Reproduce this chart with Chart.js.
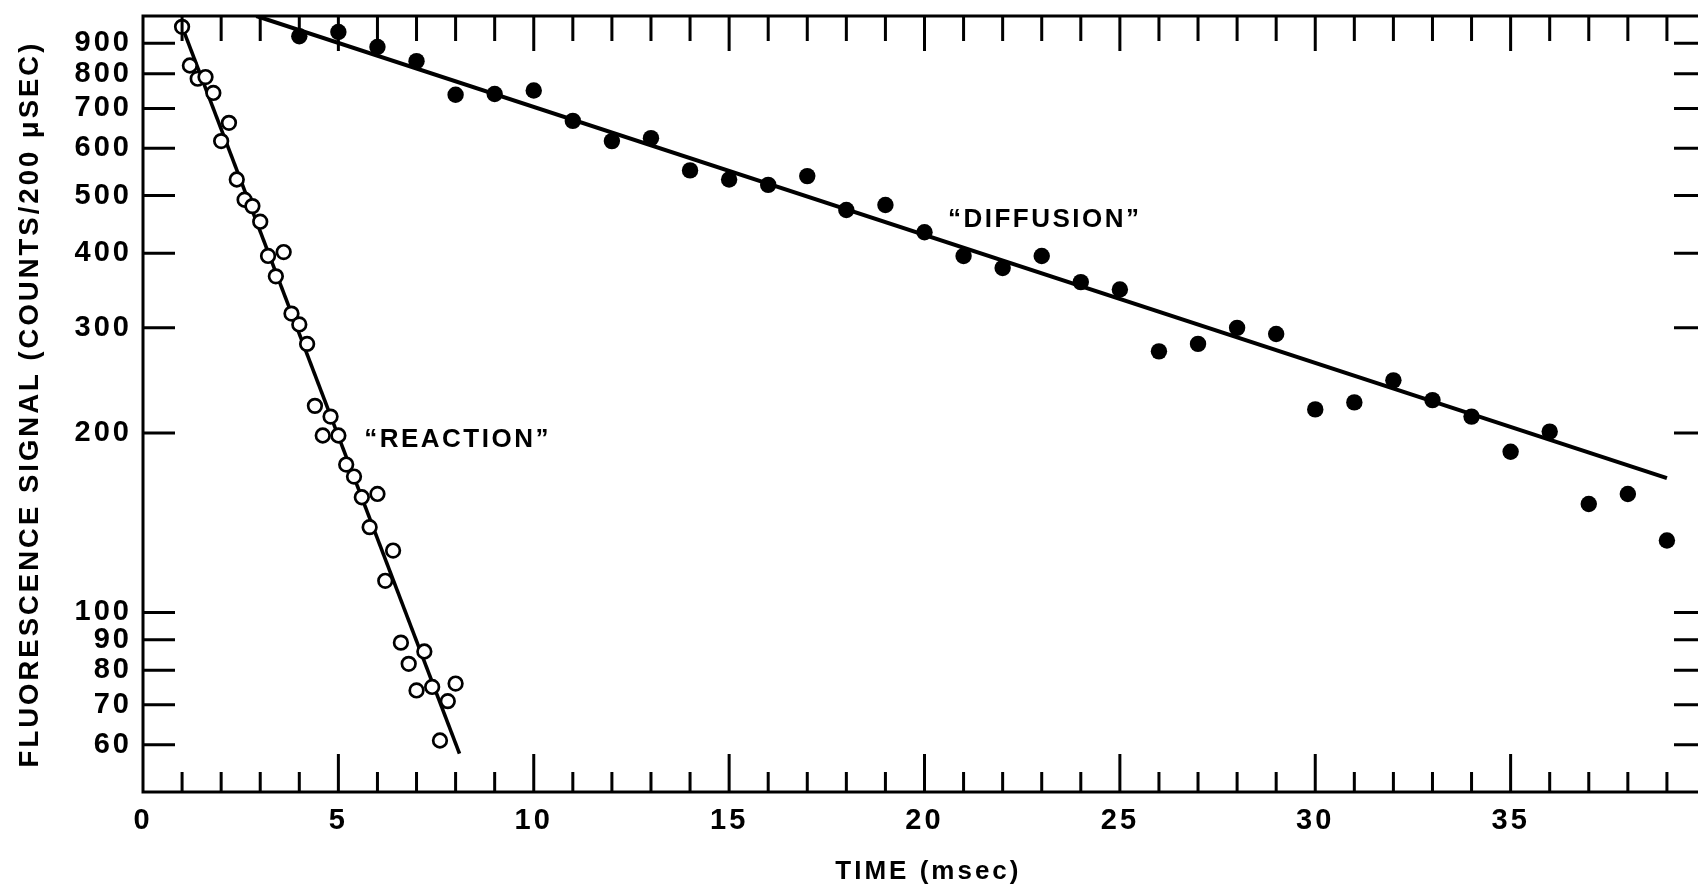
<!DOCTYPE html>
<html>
<head>
<meta charset="utf-8">
<script src="https://cdn.jsdelivr.net/npm/chart.js@4.4.1/dist/chart.umd.min.js"></script>
<style>
  html, body { margin: 0; padding: 0; background: #fff; overflow: hidden; }
  #wrap { width: 1720px; height: 891px; position: relative; }
</style>
</head>
<body>
<div id="wrap"><canvas id="c"></canvas></div>
<script>
// ---- data ----
const reactionTime = [1.0, 1.2, 1.4, 1.6, 1.8, 2.0, 2.2, 2.4, 2.6, 2.8, 3.0, 3.2, 3.4, 3.6, 3.8, 4.0, 4.2, 4.4,
                      4.6, 4.8, 5.0, 5.2, 5.4, 5.6, 5.8, 6.0, 6.2, 6.4, 6.6, 6.8, 7.0, 7.2, 7.4, 7.6, 7.8, 8.0];
const reactionSignal = [959, 826, 785, 790, 743, 617, 662, 532, 492, 480, 452, 396, 366, 402, 317, 304, 282, 222,
                        198, 213, 198, 177, 169, 156, 139, 158, 113, 127, 89, 82, 74, 86, 75, 61, 71, 76];

const diffusionTime = [4, 5, 6, 7, 8, 9, 10, 11, 12, 13, 14, 15, 16, 17, 18, 19, 20, 21,
                       22, 23, 24, 25, 26, 27, 28, 29, 30, 31, 32, 33, 34, 35, 36, 37, 38, 39];
const diffusionSignal = [925, 940, 887, 840, 738, 740, 750, 667, 617, 624, 551, 532, 521, 539, 473, 482, 434, 396,
                         378, 396, 358, 348, 274, 282, 300, 293, 219, 225, 245, 227, 213, 186, 201, 152, 158, 132];

const reactionFitTime = [1.0, 8.1];
const reactionFitSignal = [960, 58];
const diffusionFitTime = [2.9, 39.0];
const diffusionFitSignal = [1000, 168];

const yTickValues = [60, 70, 80, 90, 100, 200, 300, 400, 500, 600, 700, 800, 900];
const xTickValues = [0, 5, 10, 15, 20, 25, 30, 35];
const xMinorTicks = [1, 2, 3, 4, 5, 6, 7, 8, 9, 10, 11, 12, 13, 14, 15, 16, 17, 18, 19, 20,
                     21, 22, 23, 24, 25, 26, 27, 28, 29, 30, 31, 32, 33, 34, 35, 36, 37, 38, 39];

const curveLabels = ['\u201CREACTION\u201D', '\u201CDIFFUSION\u201D'];
const curveLabelTime = [5.66, 20.6];
const curveLabelSignal = [195, 455];

const xTitle = 'TIME (msec)';
const yTitle = 'FLUORESCENCE SIGNAL (COUNTS/200 \u03BCSEC)';

// ---- helpers ----
const zip = (xs, ys) => xs.map((x, i) => ({ x: x, y: ys[i] }));
const FONT = '"Liberation Sans", Arial, Helvetica, sans-serif';
const SPACING = '3px';

const framePlugin = {
  id: 'frame',
  beforeLayout(chart) { chart.ctx.letterSpacing = SPACING; },
  beforeDraw(chart) {
    const ctx = chart.ctx;
    ctx.letterSpacing = SPACING;
    ctx.save();
    ctx.fillStyle = '#fff';
    ctx.fillRect(0, 0, chart.width, chart.height);
    ctx.restore();
  },
  afterDraw(chart) {
    const { ctx, chartArea: a, scales: { x, y } } = chart;
    ctx.save();
    ctx.strokeStyle = '#000';
    ctx.lineWidth = 3;
    ctx.lineCap = 'butt';
    ctx.strokeRect(a.left, a.top, a.right - a.left, a.bottom - a.top);
    ctx.beginPath();
    xMinorTicks.forEach(v => {
      const px = x.getPixelForValue(v);
      const major = v % 5 === 0;
      ctx.moveTo(px, a.bottom);
      ctx.lineTo(px, a.bottom - (major ? 38 : 20));
      ctx.moveTo(px, a.top);
      ctx.lineTo(px, a.top + (major ? 35 : 25));
    });
    yTickValues.forEach(v => {
      const py = y.getPixelForValue(v);
      ctx.moveTo(a.left, py);
      ctx.lineTo(a.left + 32, py);
      ctx.moveTo(a.right, py);
      ctx.lineTo(a.right - 32, py);
    });
    ctx.stroke();

    ctx.fillStyle = '#000';
    ctx.textBaseline = 'middle';

    // curve labels
    ctx.letterSpacing = '2.5px';
    ctx.font = 'bold 26px ' + FONT;
    ctx.textAlign = 'left';
    curveLabels.forEach((t, i) => {
      ctx.fillText(t, x.getPixelForValue(curveLabelTime[i]), y.getPixelForValue(curveLabelSignal[i]));
    });

    // axis titles
    ctx.letterSpacing = '3px';
    ctx.font = 'bold 26px ' + FONT;
    ctx.textAlign = 'center';
    ctx.fillText(xTitle, x.getPixelForValue(20.1), chart.height - 19);

    ctx.font = 'bold 27.5px ' + FONT;
    ctx.translate(30, (a.top + a.bottom) / 2);
    ctx.rotate(-Math.PI / 2);
    ctx.fillText(yTitle, 0, 0);
    ctx.restore();
  }
};

Chart.defaults.font.family = FONT;
Chart.defaults.color = '#000';

new Chart(document.getElementById('c'), {
  type: 'scatter',
  data: {
    datasets: [
      {
        label: 'Reaction',
        data: zip(reactionTime, reactionSignal),
        pointStyle: 'circle',
        pointRadius: 6.8,
        pointBorderWidth: 2.7,
        pointBackgroundColor: '#fff',
        pointBorderColor: '#000',
        showLine: false,
        order: 1
      },
      {
        label: 'Diffusion',
        data: zip(diffusionTime, diffusionSignal),
        pointStyle: 'circle',
        pointRadius: 8.2,
        pointBorderWidth: 0,
        pointBackgroundColor: '#000',
        pointBorderColor: '#000',
        showLine: false,
        order: 1
      },
      {
        label: 'Reaction fit',
        data: zip(reactionFitTime, reactionFitSignal),
        showLine: true,
        borderColor: '#000',
        borderWidth: 3.6,
        pointRadius: 0,
        order: 2
      },
      {
        label: 'Diffusion fit',
        data: zip(diffusionFitTime, diffusionFitSignal),
        showLine: true,
        borderColor: '#000',
        borderWidth: 4,
        pointRadius: 0,
        order: 2
      }
    ]
  },
  options: {
    responsive: true,
    maintainAspectRatio: false,
    animation: false,
    events: [],
    layout: { padding: { top: 16, right: 14, left: 0, bottom: 0 } },
    plugins: { legend: { display: false }, tooltip: { enabled: false } },
    scales: {
      x: {
        type: 'linear',
        min: 0,
        max: 40,
        grid: { display: false, drawTicks: false },
        border: { display: false },
        afterBuildTicks: s => { s.ticks = xTickValues.map(v => ({ value: v })); },
        afterFit: s => { s.height = 99; s.paddingLeft = 0; s.paddingRight = 0; },
        ticks: {
          autoSkip: false,
          maxRotation: 0,
          padding: 12,
          font: { size: 29, weight: 'bold' },
          color: '#000',
          callback: v => String(v)
        },
        title: { display: false }
      },
      y: {
        type: 'logarithmic',
        min: 50,
        max: 1000,
        grid: { display: false, drawTicks: false },
        border: { display: false },
        afterBuildTicks: s => { s.ticks = yTickValues.map(v => ({ value: v })); },
        afterFit: s => { s.width = 143; s.paddingTop = 0; s.paddingBottom = 0; },
        ticks: {
          autoSkip: false,
          padding: 11,
          font: { size: 29, weight: 'bold' },
          color: '#000',
          callback: v => String(v)
        },
        title: { display: false }
      }
    }
  },
  plugins: [framePlugin]
});
</script>
</body>
</html>
